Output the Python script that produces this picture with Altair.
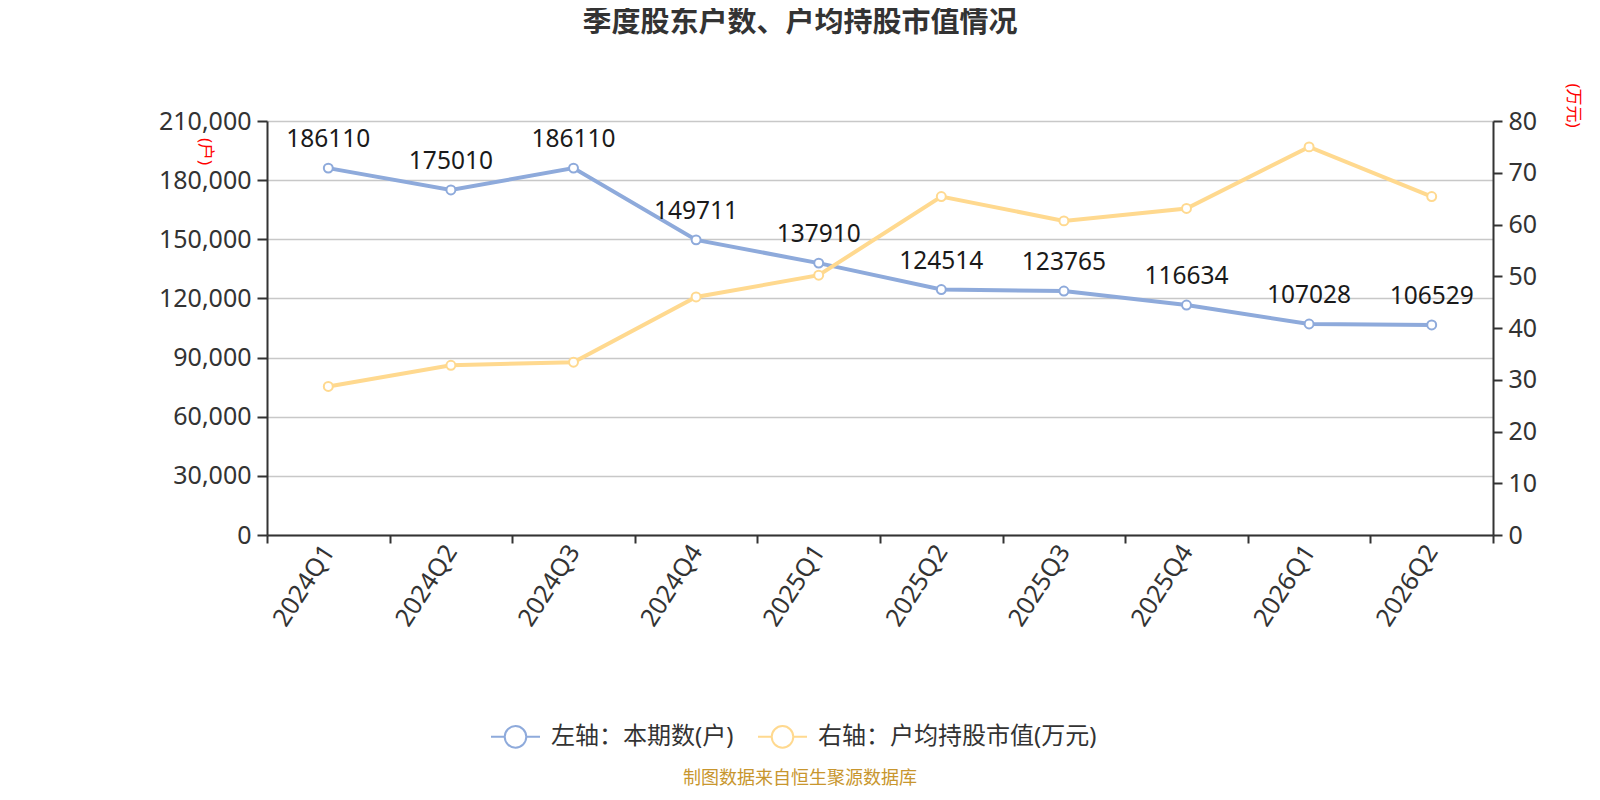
import altair as alt
import pandas as pd

quarters = ["2024Q1", "2024Q2", "2024Q3", "2024Q4", "2025Q1",
            "2025Q2", "2025Q3", "2025Q4", "2026Q1", "2026Q2"]
holders = [186110, 175010, 186110, 149711, 137910,
           124514, 123765, 116634, 107028, 106529]
avg_value = [28.7, 32.8, 33.4, 46.0, 50.2, 65.4, 60.7, 63.1, 75.0, 65.4]
series_names = ["左轴：本期数(户)", "右轴：户均持股市值(万元)"]
series_colors = ["#8eaadb", "#ffd98f"]
left_ticks = [0, 30000, 60000, 90000, 120000, 150000, 180000, 210000]
right_ticks = [0, 10, 20, 30, 40, 50, 60, 70, 80]
title_text = "季度股东户数、户均持股市值情况"
footer_text = "制图数据来自恒生聚源数据库"

df = pd.DataFrame({"季度": quarters, "本期数": holders, "户均持股市值": avg_value})
title_df = pd.DataFrame({"t": [title_text]})
footer_df = pd.DataFrame({"t": [footer_text]})

FONT = "Noto Sans, Noto Sans CJK SC, sans-serif"
AX = "#333333"

x_enc = alt.X(
    "季度:N", sort=quarters,
    scale=alt.Scale(type="band", paddingInner=0, paddingOuter=0),
    bandPosition=0.5,
    axis=alt.Axis(title=None, labelAngle=-57, labelAlign="right", labelBaseline="middle",
                  labelFontSize=25, labelColor=AX, labelFont=FONT, labelPadding=4,
                  tickBand="extent", tickSize=8, tickWidth=2, tickColor=AX,
                  domainColor=AX, domainWidth=2, grid=False),
)

y_left = alt.Y(
    "本期数:Q", scale=alt.Scale(domain=[0, 210000], nice=False),
    axis=alt.Axis(values=left_ticks, labelExpr="format(datum.value, ',')",
                  labelFontSize=25, labelColor=AX, labelFont=FONT,
                  labelPadding=6, tickSize=10, tickWidth=2, tickColor=AX,
                  domainColor=AX, domainWidth=2, grid=True, gridColor="#c8c8c8", gridWidth=1.5,
                  title="(户)", titleAngle=90, titleX=-63, titleY=30, titleColor="red",
                  titleFontSize=17, titleFontWeight="normal", titleFont=FONT,
                  titleAlign="center", titleBaseline="middle"),
)

y_right = alt.Y(
    "户均持股市值:Q", scale=alt.Scale(domain=[0, 80], nice=False),
    axis=alt.Axis(orient="right", values=right_ticks, labelFontSize=25, labelColor=AX, labelFont=FONT,
                  labelPadding=6, tickSize=9, tickWidth=2, tickColor=AX,
                  domainColor=AX, domainWidth=2, grid=False,
                  title="(万元)", titleAngle=90, titleX=79, titleY=-16, titleColor="red",
                  titleFontSize=17, titleFontWeight="normal", titleFont=FONT,
                  titleAlign="center", titleBaseline="middle"),
)

color_scale = alt.Scale(domain=series_names, range=series_colors)
legend = alt.Legend(
    title=None, orient="none", legendX=223, legendY=590, direction="horizontal",
    symbolType="M-1,0L-0.44,0M0.44,0L1,0M-0.44,0A0.44,0.44 0 1,0 0.44,0A0.44,0.44 0 1,0 -0.44,0Z",
    symbolSize=2401, symbolStrokeWidth=2, symbolFillColor="white",
    labelFontSize=24, labelColor=AX, labelFont=FONT, labelOffset=10, columnPadding=20,
    labelLimit=0,
)
color_enc = alt.Color("系列:N", scale=color_scale, legend=legend)

point_def = alt.OverlayMarkDef(filled=False, fill="white", size=80, strokeWidth=2, opacity=1)

blue_line = alt.Chart(df).transform_calculate(系列=f"'{series_names[0]}'").mark_line(
    strokeWidth=4, point=point_def).encode(x=x_enc, y=y_left, color=color_enc)
blue_text = alt.Chart(df).mark_text(dy=-21, baseline="alphabetic", fontSize=24.5,
                                     color="#1a1a1a", font=FONT).encode(
    x=x_enc, y=y_left, text=alt.Text("本期数:Q", format="d"),
)
yellow_line = alt.Chart(df).transform_calculate(系列=f"'{series_names[1]}'").mark_line(
    strokeWidth=4, point=point_def).encode(x=x_enc, y=y_right, color=color_enc)
title_mark = alt.Chart(title_df).mark_text(fontSize=29, fontWeight="bold", color=AX,
                                           font="Noto Sans CJK SC",
                                           align="center", baseline="middle").encode(
    x=alt.value(800 - 267), y=alt.value(23 - 121), text="t:N",
)
footer = alt.Chart(footer_df).mark_text(fontSize=18, color="#c8962e", font=FONT,
                                        align="center", baseline="middle").encode(
    x=alt.value(800 - 267), y=alt.value(779 - 121), text="t:N",
)

chart = alt.layer(
    alt.layer(blue_line, blue_text), yellow_line, title_mark, footer
).resolve_scale(y="independent").properties(
    width=1226, height=414,
    padding={"left": 259, "top": 113, "right": 99, "bottom": 253},
    autosize=alt.AutoSizeParams(type="none"),
).configure_view(stroke=None)

chart.save("out.html", embed_options={"renderer": "svg", "actions": False})
